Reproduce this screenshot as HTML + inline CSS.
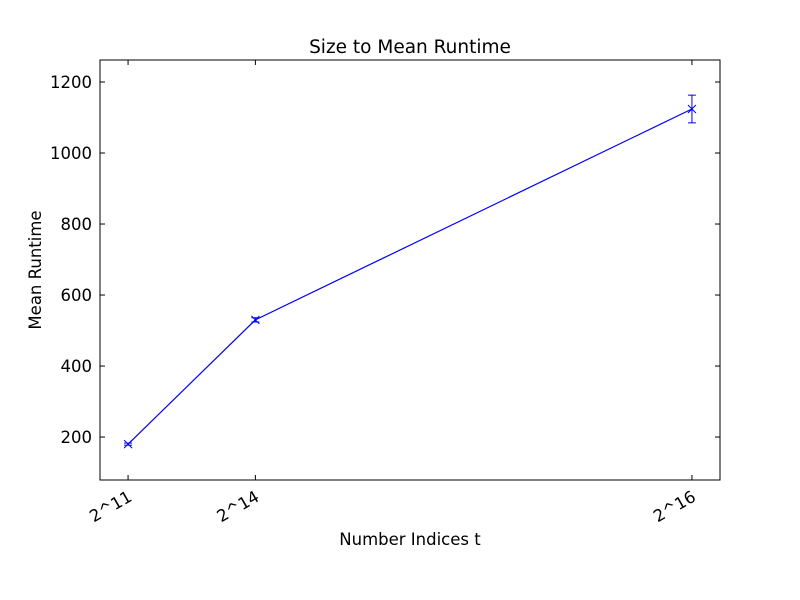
<!DOCTYPE html>
<html><head><meta charset="utf-8"><style>body{margin:0;background:#fff}svg{display:block;font-family:"DejaVu Sans","Liberation Sans",sans-serif}</style></head>
<body>
<svg id="c" width="800" height="600"></svg>
<script>
const categories = ["2^11","2^14","2^16"];
const xValues = [2048,16384,65536];
const meanValues = [180,530,1124];
const errValues = [3,6,39];
const yTicks = [200,400,600,800,1000,1200];

const L=100,R=720,T=60,B=480;
const xMin=-1112,xMax=68696,yMin=79,yMax=1262;
const sx=v=>L+(v-xMin)/(xMax-xMin)*(R-L);
const sy=v=>B-(v-yMin)/(yMax-yMin)*(B-T);
const svg=document.getElementById('c');
const NS='http://www.w3.org/2000/svg';
function mk(tag,attrs,parent){const e=document.createElementNS(NS,tag);for(const k in attrs)e.setAttribute(k,attrs[k]);(parent||svg).appendChild(e);return e;}

let t=mk('text',{x:410,y:53,'text-anchor':'middle','font-size':18.5});t.textContent='Size to Mean Runtime';



const frame=mk('rect',{x:L,y:T,width:R-L,height:B-T,fill:'none',stroke:'#000','stroke-width':1});



yTicks.forEach(v=>{const y=sy(v);
 mk('line',{x1:L,x2:L+5,y1:y,y2:y,stroke:'#000'});
 mk('line',{x1:R,x2:R-5,y1:y,y2:y,stroke:'#000'});
 const tx=mk('text',{x:L-8,y:y+6,'text-anchor':'end','font-size':16.5});tx.textContent=v;
 
 
});
categories.forEach((c,i)=>{const x=sx(xValues[i]);
 mk('line',{x1:x,x2:x,y1:B,y2:B-5,stroke:'#000'});
 mk('line',{x1:x,x2:x,y1:T,y2:T+5,stroke:'#000'});
 const tx=mk('text',{x:x+5,y:B+20,'text-anchor':'end','font-size':16.5,transform:`rotate(-30 ${x+5} ${B+20})`});tx.textContent=c;
 
 
});

let xl=mk('text',{x:410,y:545,'text-anchor':'middle','font-size':16.5});xl.textContent='Number Indices t';


let yl=mk('text',{x:41,y:270,'text-anchor':'middle','font-size':16.5,transform:'rotate(-90 41 270)'});yl.textContent='Mean Runtime';



const line=mk('polyline',{points:xValues.map((x,i)=>sx(x)+','+sy(meanValues[i])).join(' '),fill:'none',stroke:'#0000ff','stroke-width':1.2});



xValues.forEach((xv,i)=>{const x=sx(xv),y=sy(meanValues[i]),y1=sy(meanValues[i]+errValues[i]),y2=sy(meanValues[i]-errValues[i]);
 const g=mk('g',{stroke:'#0000ff','stroke-width':1});
 
 
 mk('line',{x1:x,x2:x,y1:y1,y2:y2},g);
 mk('line',{x1:x-4,x2:x+4,y1:y1,y2:y1},g);
 mk('line',{x1:x-4,x2:x+4,y1:y2,y2:y2},g);
 mk('line',{x1:x-4,x2:x+4,y1:y-4,y2:y+4},g);
 mk('line',{x1:x-4,x2:x+4,y1:y+4,y2:y-4},g);
});
</script>
</body></html>
